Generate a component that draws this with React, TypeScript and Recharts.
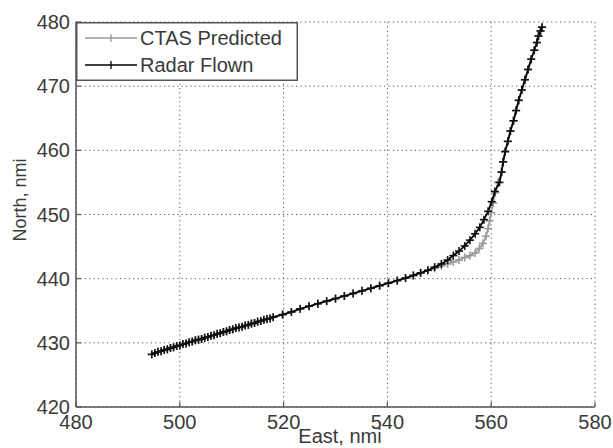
import React from "react";
import {
  ScatterChart,
  Scatter,
  XAxis,
  YAxis,
  CartesianGrid,
  Legend,
} from "recharts";

// Radar Flown track (east, north in nmi)
const radarEast = [
  494.6, 495.2, 495.8, 496.4, 497.0, 497.6, 498.2, 498.8, 499.4, 500.0,
  500.6, 501.2, 501.8, 502.4, 503.0, 503.6, 504.2, 504.8, 505.4, 506.0,
  506.6, 507.2, 507.8, 508.4, 509.0, 509.6, 510.2, 510.8, 511.4, 512.0,
  512.6, 513.2, 513.8, 514.4, 515.0, 515.6, 516.2, 516.8, 517.4, 518.0,
  519.8, 521.5, 523.2, 524.9, 526.6, 528.3, 530.0, 531.7, 533.4, 535.1,
  536.8, 538.5, 540.2, 541.9, 543.5, 545.0, 546.4, 547.8, 549.1, 550.4,
  551.6, 552.7, 553.8, 554.9, 555.9, 556.9, 557.8, 558.6, 559.4, 560.1,
  560.7, 561.6, 562.0, 562.3, 562.7, 563.2, 563.7, 564.3, 564.8, 565.3,
  565.9, 566.5, 567.1, 567.7, 568.3, 568.8, 569.1, 569.5, 569.8,
];
const radarNorth = [
  428.2, 428.4, 428.6, 428.7, 428.9, 429.0, 429.2, 429.3, 429.5, 429.6,
  429.8, 429.9, 430.1, 430.2, 430.4, 430.5, 430.6, 430.8, 430.9, 431.1,
  431.2, 431.4, 431.5, 431.7, 431.8, 432.0, 432.1, 432.3, 432.4, 432.5,
  432.7, 432.8, 433.0, 433.1, 433.3, 433.4, 433.6, 433.7, 433.8, 434.0,
  434.4, 434.8, 435.3, 435.7, 436.1, 436.5, 436.9, 437.3, 437.7, 438.1,
  438.5, 438.9, 439.3, 439.7, 440.1, 440.5, 440.9, 441.3, 441.8, 442.3,
  442.9, 443.6, 444.3, 445.1, 446.0, 447.0, 448.0, 449.2, 450.5, 452.0,
  453.6, 455.0, 456.6, 458.2, 459.8, 461.4, 463.0, 464.6, 466.2, 467.8,
  469.4, 471.0, 472.6, 474.2, 475.6, 476.8, 477.8, 478.6, 479.2,
];

// CTAS Predicted track
const ctasEast = [
  494.6, 495.2, 495.8, 496.4, 497.0, 497.6, 498.2, 498.8, 499.4, 500.0,
  500.6, 501.2, 501.8, 502.4, 503.0, 503.6, 504.2, 504.8, 505.4, 506.0,
  506.6, 507.2, 507.8, 508.4, 509.0, 509.6, 510.2, 510.8, 511.4, 512.0,
  512.6, 513.2, 513.8, 514.4, 515.0, 515.6, 516.2, 516.8, 517.4, 518.0,
  519.8, 521.5, 523.2, 524.9, 526.6, 528.3, 530.0, 531.7, 533.4, 535.1,
  536.8, 538.5, 540.2, 541.9, 543.5, 545.0, 546.4, 547.8, 549.1, 550.4,
  551.6, 552.7, 553.8, 554.9, 555.9, 556.9, 557.7, 558.4, 559.0, 559.4,
  559.7, 560.0, 560.4, 560.8, 561.3, 562.0, 562.3, 562.7, 563.2, 563.7,
  564.3, 564.8, 565.3, 565.9, 566.5, 567.1, 567.7, 568.3, 568.8, 569.1,
  569.5, 569.8,
];
const ctasNorth = [
  428.2, 428.4, 428.6, 428.7, 428.9, 429.0, 429.2, 429.3, 429.5, 429.6,
  429.8, 429.9, 430.1, 430.2, 430.4, 430.5, 430.6, 430.8, 430.9, 431.1,
  431.2, 431.4, 431.5, 431.7, 431.8, 432.0, 432.1, 432.3, 432.4, 432.5,
  432.7, 432.8, 433.0, 433.1, 433.3, 433.4, 433.6, 433.7, 433.8, 434.0,
  434.4, 434.8, 435.3, 435.7, 436.1, 436.5, 436.9, 437.3, 437.7, 438.1,
  438.5, 438.9, 439.3, 439.7, 440.1, 440.5, 440.9, 441.3, 441.6, 442.0,
  442.3, 442.6, 442.9, 443.3, 443.6, 444.0, 444.7, 445.5, 446.6, 447.8,
  449.0, 450.3, 451.8, 453.4, 455.0, 456.6, 458.2, 459.8, 461.4, 463.0,
  464.6, 466.2, 467.8, 469.4, 471.0, 472.6, 474.2, 475.6, 476.8, 477.8,
  478.6, 479.2,
];

const xTicks = [480, 500, 520, 540, 560, 580];
const yTicks = [420, 430, 440, 450, 460, 470, 480];
const seriesNames = ["CTAS Predicted", "Radar Flown"];

const radarData = radarEast.map((e, i) => ({ east: e, north: radarNorth[i] }));
const ctasData = ctasEast.map((e, i) => ({ east: e, north: ctasNorth[i] }));

const W = 613;
const H = 448;
const LEFT = 76;
const RIGHT = 595;
const TOP = 22;
const BOTTOM = 407;
const FONT = "'Liberation Sans', Arial, Helvetica, sans-serif";
const TEXT = "#3a3a3a";
const AXIS = "#555";
const GRAY = "#9a9a9a";

const Plus = (color: string) => (props: any) => {
  const { cx, cy } = props;
  if (cx == null || cy == null) return null;
  return (
    <g stroke={color} strokeWidth={1.6}>
      <line x1={cx - 4} y1={cy} x2={cx + 4} y2={cy} />
      <line x1={cx} y1={cy - 4} x2={cx} y2={cy + 4} />
    </g>
  );
};

const BottomTick = (props: any) => {
  const { x, payload } = props;
  return (
    <g>
      <line x1={x} y1={BOTTOM} x2={x} y2={BOTTOM - 5} stroke={AXIS} strokeWidth={1.2} />
      <text x={x} y={429} textAnchor="middle" fill={TEXT} fontSize={20} fontFamily={FONT}>
        {payload.value}
      </text>
    </g>
  );
};

const LeftTick = (props: any) => {
  const { y, payload } = props;
  return (
    <g>
      <line x1={LEFT} y1={y} x2={LEFT + 5} y2={y} stroke={AXIS} strokeWidth={1.2} />
      <text x={70} y={y + 7} textAnchor="end" fill={TEXT} fontSize={20} fontFamily={FONT}>
        {payload.value}
      </text>
    </g>
  );
};

const TopTick = (props: any) => (
  <line x1={props.x} y1={TOP} x2={props.x} y2={TOP + 5} stroke={AXIS} strokeWidth={1.2} />
);

const RightTick = (props: any) => (
  <line x1={RIGHT} y1={props.y} x2={RIGHT - 5} y2={props.y} stroke={AXIS} strokeWidth={1.2} />
);

const LegendBox = () => {
  const rows = [
    { name: seriesNames[0], color: GRAY, y: 16 },
    { name: seriesNames[1], color: "#000", y: 43 },
  ];
  return (
    <svg width={222} height={59} style={{ display: "block" }}>
      <rect x={0.75} y={0.75} width={220.5} height={57.5} fill="#fff" stroke={AXIS} strokeWidth={1.5} />
      {rows.map((r) => (
        <g key={r.name}>
          <line x1={9} y1={r.y} x2={61} y2={r.y} stroke={r.color} strokeWidth={1.5} />
          <line x1={35} y1={r.y - 4} x2={35} y2={r.y + 4} stroke={r.color} strokeWidth={1.3} />
          <text x={64} y={r.y + 7} fill={TEXT} fontSize={20} fontFamily={FONT}>
            {r.name}
          </text>
        </g>
      ))}
    </svg>
  );
};

export default function App() {
  return (
    <div style={{ position: "absolute", left: 0, top: 0, width: W, height: H, background: "#fff" }}>
      <ScatterChart width={W} height={H} margin={{ top: TOP, right: W - RIGHT, bottom: 0, left: 0 }}>
        <CartesianGrid stroke="#555" strokeDasharray="1.2 3.2" strokeWidth={1} />
        <XAxis
          xAxisId={0}
          type="number"
          dataKey="east"
          domain={[480, 580]}
          ticks={xTicks}
          height={H - BOTTOM}
          axisLine={{ stroke: AXIS, strokeWidth: 1.5 }}
          tickLine={false}
          tick={<BottomTick />}
          interval={0}
        />
        <XAxis
          xAxisId="top"
          orientation="top"
          type="number"
          dataKey="east"
          domain={[480, 580]}
          ticks={xTicks}
          height={0}
          axisLine={{ stroke: AXIS, strokeWidth: 1.5 }}
          tickLine={false}
          tick={<TopTick />}
          interval={0}
        />
        <YAxis
          yAxisId={0}
          type="number"
          dataKey="north"
          domain={[420, 480]}
          ticks={yTicks}
          width={LEFT}
          axisLine={{ stroke: AXIS, strokeWidth: 1.5 }}
          tickLine={false}
          tick={<LeftTick />}
          interval={0}
        />
        <YAxis
          yAxisId="right"
          orientation="right"
          type="number"
          dataKey="north"
          domain={[420, 480]}
          ticks={yTicks}
          width={0}
          axisLine={{ stroke: AXIS, strokeWidth: 1.5 }}
          tickLine={false}
          tick={<RightTick />}
          interval={0}
        />
        <Legend
          layout="horizontal"
          verticalAlign="middle"
          align="center"
          content={<LegendBox />}
          wrapperStyle={{ left: LEFT, top: TOP, width: 222, height: 59 }}
        />
        <Scatter
          name={seriesNames[0]}
          data={ctasData}
          line={{ stroke: GRAY, strokeWidth: 1.6 }}
          lineType="joint"
          shape={Plus(GRAY)}
          isAnimationActive={false}
        />
        <Scatter
          name={seriesNames[1]}
          data={radarData}
          line={{ stroke: "#000", strokeWidth: 1.8 }}
          lineType="joint"
          shape={Plus("#111")}
          isAnimationActive={false}
        />
      </ScatterChart>
      <div
        style={{
          position: "absolute",
          left: 340,
          top: 426,
          transform: "translateX(-50%)",
          fontFamily: FONT,
          fontSize: 20,
          color: TEXT,
          whiteSpace: "nowrap",
          lineHeight: "20px",
        }}
      >
        East, nmi
      </div>
      <div
        style={{
          position: "absolute",
          left: 20,
          top: 200,
          transform: "translate(-50%, -50%) rotate(-90deg)",
          fontFamily: FONT,
          fontSize: 18,
          color: TEXT,
          whiteSpace: "nowrap",
          lineHeight: "18px",
        }}
      >
        North, nmi
      </div>
    </div>
  );
}
